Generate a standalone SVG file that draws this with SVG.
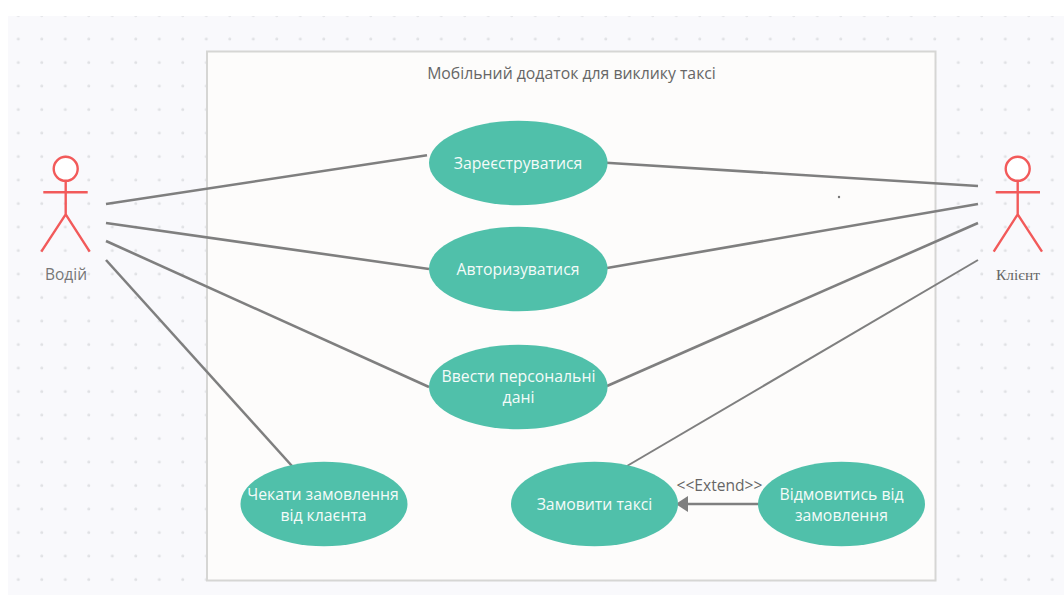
<svg xmlns="http://www.w3.org/2000/svg" width="1064" height="595" viewBox="0 0 1064 595">
<style>
.uc{fill:#50c0aa}
.ut{font:15.800px "Open Sans",sans-serif;fill:#f4fbf9;text-anchor:middle}
.act{fill:none;stroke:#f25a5a;stroke-width:2.4}
.c{stroke:#7f7f7f;stroke-width:2.6;fill:none}
.lb{font:15.800px "Open Sans",sans-serif;fill:#666;text-anchor:middle}
</style>
<defs>
<pattern id="dots" x="6.8" y="4" width="23.5" height="23.5" patternUnits="userSpaceOnUse"><circle cx="11.5" cy="11.5" r="1.5" fill="#e0e1e4"/></pattern>
</defs>
<rect width="1064" height="595" fill="#fff"/>
<rect x="8" y="16" width="1056" height="579" fill="#f9f9fc"/>
<rect x="8" y="16" width="1056" height="579" fill="url(#dots)"/>
<g id="system">
<rect x="207" y="51.500" width="728.500" height="529" fill="#fdfcfb" stroke="#d6d6d4" stroke-width="2"/>
<text class="lb" x="571.500" y="79">Мобільний додаток для виклику таксі</text>
</g>
<g id="connectors">
<path class="c" d="M106 204L427 155.300"/>
<path class="c" d="M106 223L429 269"/>
<path class="c" d="M106 241L429 387"/>
<path class="c" d="M106 260L292 466"/>
<path class="c" d="M606 162.700L978 186"/>
<path class="c" d="M607 268L978 204"/>
<path class="c" d="M607 386L978 223"/>
<path class="c" style="stroke-width:2" d="M627 466L978 260"/>
<path class="c" d="M759 504H688"/>
<path d="M675.700 504L688 496V512Z" fill="#7f7f7f"/>
<text class="lb" x="719.500" y="491" style="font-size:15.600px">&lt;&lt;Extend&gt;&gt;</text>
</g>
<g id="actor-driver">
<circle class="act" cx="65.700" cy="168.800" r="12" style="fill:#fff"/>
<path class="act" d="M65.700 181V214.300M43.300 192.300H87.700M65.700 214.300L41.300 251.700M65.700 214.300L89.700 251.700"/>
<text x="66" y="280" style="font:15.500px 'Open Sans',sans-serif;fill:#777;text-anchor:middle">Водій</text>
</g>
<g id="actor-client">
<circle class="act" cx="1017.700" cy="168.800" r="12" style="fill:#fff"/>
<path class="act" d="M1017.700 181V214.300M995.700 192.300H1040M1017.700 214.300L993.700 251.700M1017.700 214.300L1042 251.700"/>
<text x="1018" y="280" style="font:15.400px 'Liberation Serif',serif;fill:#666;text-anchor:middle">Клієнт</text>
</g>
<g id="uc-register"><ellipse class="uc" cx="518.300" cy="163" rx="89.300" ry="42.200"/><text class="ut" x="518" y="169">Зареєструватися</text></g>
<g id="uc-auth"><ellipse class="uc" cx="518.300" cy="269" rx="89.300" ry="42.200"/><text class="ut" x="518" y="275">Авторизуватися</text></g>
<g id="uc-data"><ellipse class="uc" cx="518.300" cy="387" rx="89.300" ry="42.200"/><text class="ut" x="518.500" y="382">Ввести персональні</text><text class="ut" x="518.500" y="403">дані</text></g>
<g id="uc-wait"><ellipse class="uc" cx="324" cy="504" rx="83.500" ry="42.200"/><text class="ut" x="323" y="500">Чекати замовлення</text><text class="ut" x="323.500" y="521">від клаєнта</text></g>
<g id="uc-order"><ellipse class="uc" cx="594.500" cy="504" rx="83.500" ry="42.200"/><text class="ut" x="594.500" y="510">Замовити таксі</text></g>
<g id="uc-cancel"><ellipse class="uc" cx="841.500" cy="504" rx="83.500" ry="42.200"/><text class="ut" x="841.500" y="500">Відмовитись від</text><text class="ut" x="841.500" y="521">замовлення</text></g>
<circle cx="839" cy="197" r="1.200" fill="#777"/>
</svg>
